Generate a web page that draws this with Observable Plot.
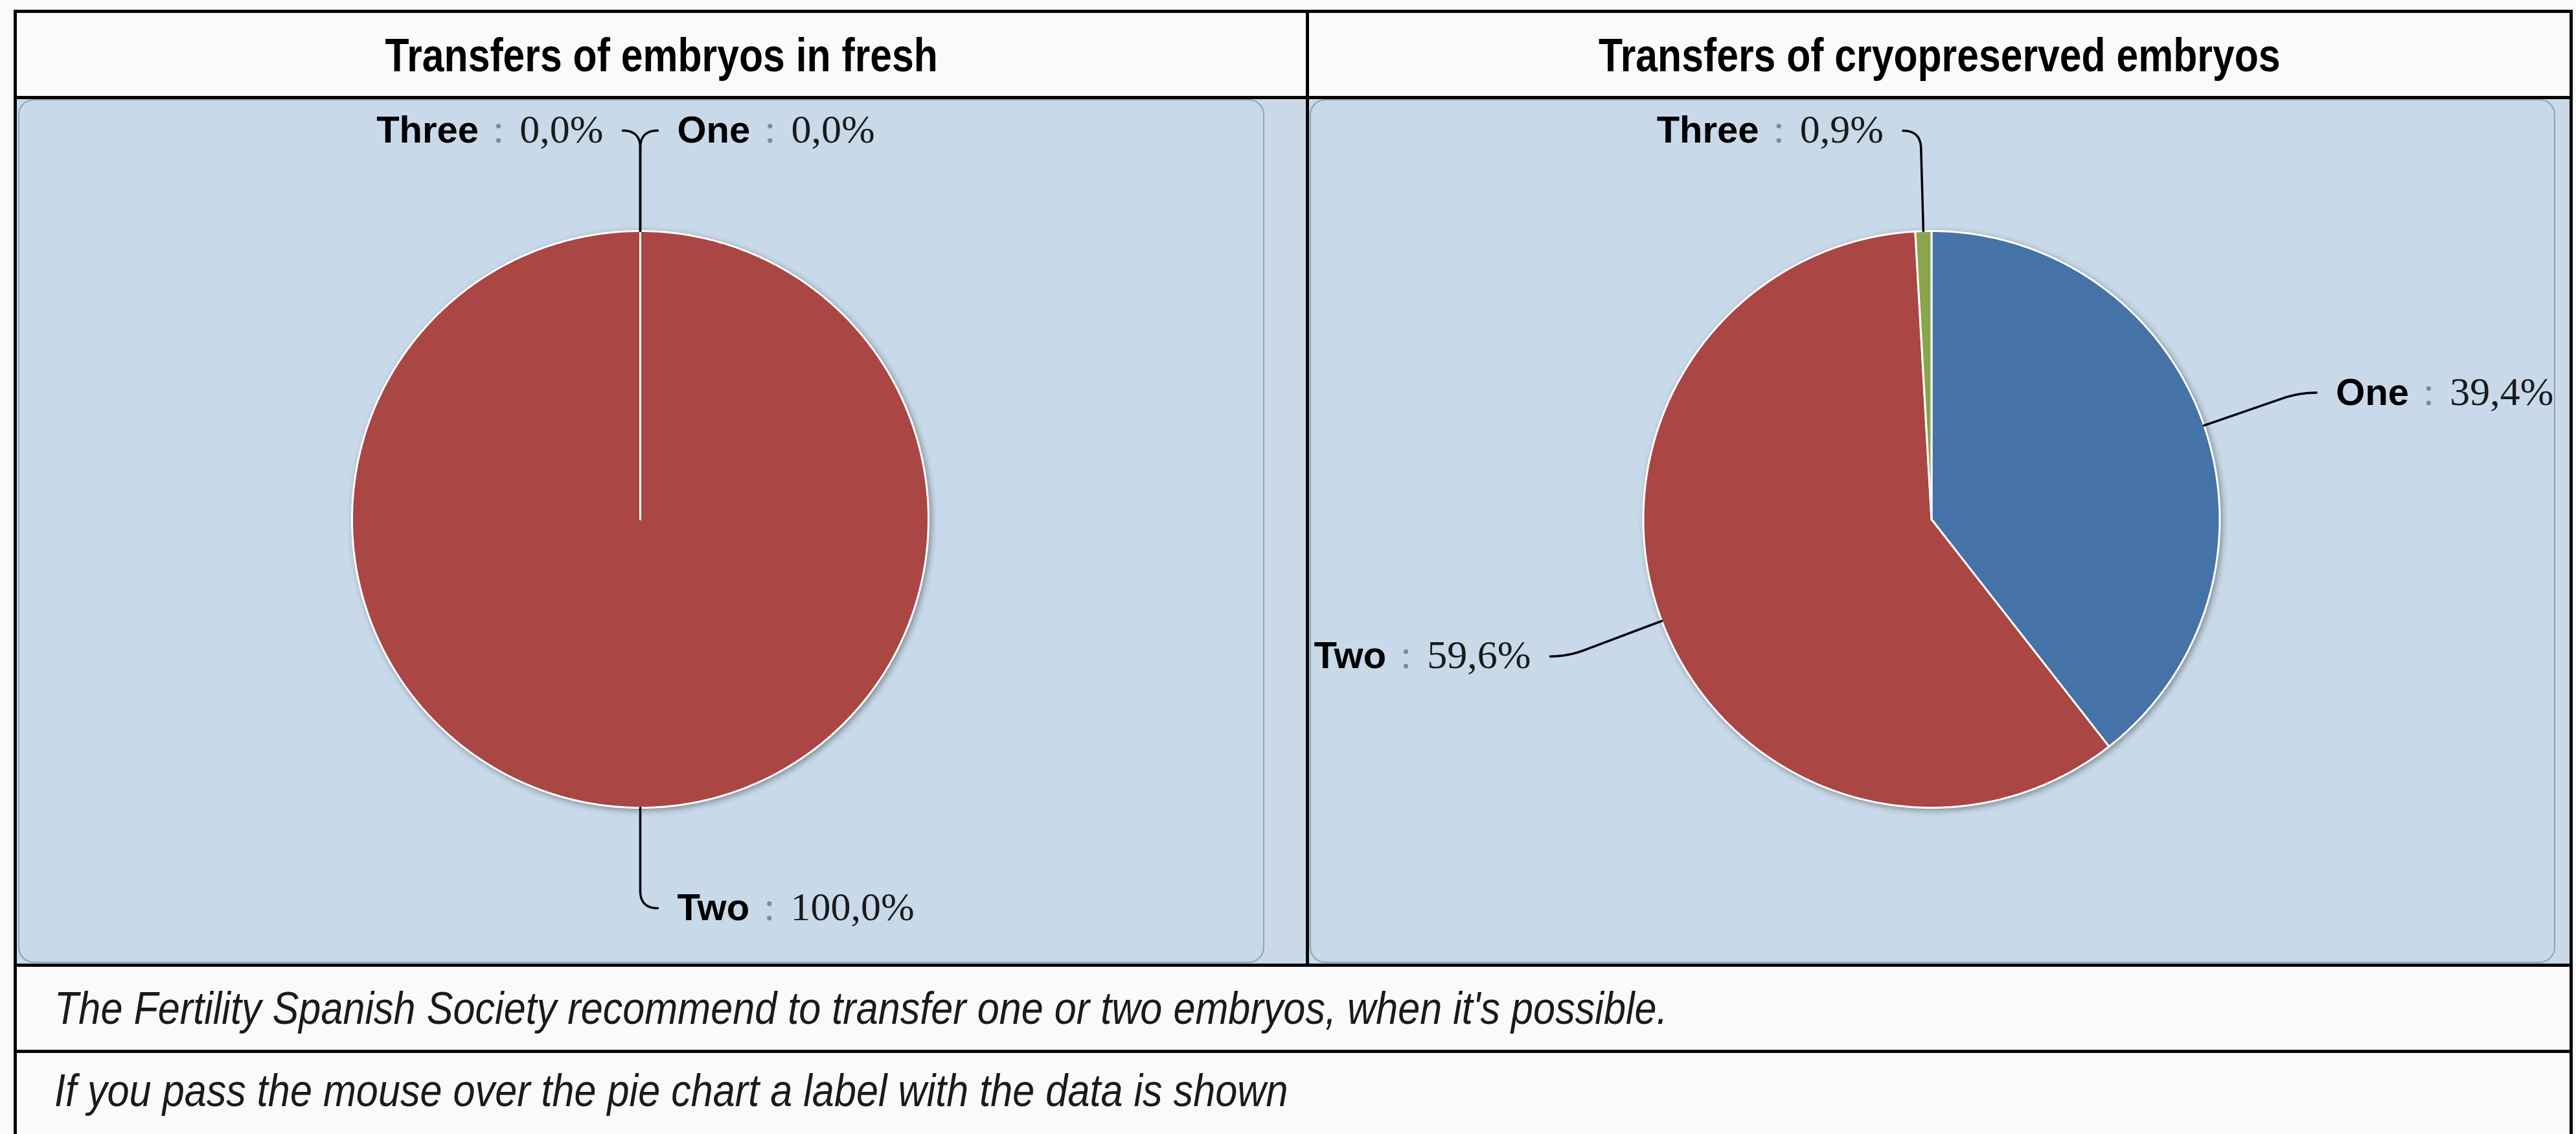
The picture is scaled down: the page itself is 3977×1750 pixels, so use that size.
<!DOCTYPE html>
<html><head><meta charset="utf-8">
<script src="https://cdn.jsdelivr.net/npm/d3@7"></script>
<script src="https://cdn.jsdelivr.net/npm/@observablehq/plot@0.6"></script>
<style>
html,body{margin:0;padding:0;background:#fafafa;width:3977px;height:1750px;overflow:hidden;position:relative;font-family:"Liberation Sans",Arial,sans-serif;}
.bar{position:absolute;background:#060606;}
.cell{position:absolute;background:#c9d9e8;}
.panel{position:absolute;box-sizing:border-box;border:2px solid #8ea3b9;border-radius:24px;background:#c8d9e9;}
.titlebox{position:absolute;text-align:center;white-space:nowrap;}
.titlebox span{display:inline-block;font-weight:bold;font-size:72px;line-height:72px;color:#000;transform:scaleX(0.843);transform-origin:50% 50%;}
.note{position:absolute;font-style:italic;font-size:70px;line-height:70px;white-space:nowrap;color:#1a1a1a;transform-origin:0 0;transform:scaleX(0.874);}
.plotbox{position:absolute;}
</style></head><body>
<script>
// ---- data ----
const categories = ["One", "Two", "Three"];
const freshShares = [0.0, 100.0, 0.0];
const cryoShares = [39.4, 59.6, 0.9];
const palette = ["#4572A7", "#AA4643", "#89A54E"];
const chartTitles = ["Transfers of embryos in fresh", "Transfers of cryopreserved embryos"];
const footnotes = [
  "The Fertility Spanish Society recommend to transfer one or two embryos, when it's possible.",
  "If you pass the mouse over the pie chart a label with the data is shown"
];

// ---- page frame ----
function div(cls, css, html) {
  const d = document.createElement("div");
  d.className = cls;
  Object.assign(d.style, css);
  if (html !== undefined) d.innerHTML = html;
  document.body.appendChild(d);
  return d;
}
const px = v => v + "px";
// cells
div("cell", {left: px(26), top: px(153), width: px(1990), height: px(1334)});
div("cell", {left: px(2021), top: px(153), width: px(1946), height: px(1334)});
// panels
const panels = [
  {left: 28, top: 153, width: 1924, height: 1333},
  {left: 2022, top: 153, width: 1923, height: 1333}
];
panels.forEach(p => div("panel", {left: px(p.left), top: px(p.top), width: px(p.width), height: px(p.height)}));
// borders
div("bar", {left: px(21), top: px(15), width: px(3951), height: px(5)});
div("bar", {left: px(21), top: px(148), width: px(3951), height: px(5)});
div("bar", {left: px(21), top: px(1487), width: px(3951), height: px(5)});
div("bar", {left: px(21), top: px(1620), width: px(3951), height: px(5)});
div("bar", {left: px(21), top: px(15), width: px(5), height: px(1760)});
div("bar", {left: px(3967), top: px(15), width: px(5), height: px(1760)});
div("bar", {left: px(2016), top: px(15), width: px(5), height: px(1477)});
// titles
const titleBoxes = [{left: 26, width: 1990}, {left: 2021, width: 1946}];
chartTitles.forEach((t, i) => {
  const b = div("titlebox", {left: px(titleBoxes[i].left), top: px(49), width: px(titleBoxes[i].width)});
  const s = document.createElement("span");
  s.textContent = t;
  b.appendChild(s);
});
// footnotes
const noteTops = [1521, 1648];
footnotes.forEach((t, i) => {
  const d = div("note", {left: px(84), top: px(noteTops[i])});
  d.textContent = t;
});

// ---- pies ----
const fmt = v => v.toFixed(1).replace(".", ",") + "%";
const SVGNS = "http://www.w3.org/2000/svg";

function pieChart(values, W, H, cx, cy) {
  const R = 445, rho = 600, hook = 27, pad = 57;
  const arcs = d3.pie().sort(null).value(d => d)(values);
  const slices = [], conns = [], labels = [];
  categories.forEach((name, i) => {
    const a = arcs[i];
    const span = a.endAngle - a.startAngle;
    const n = Math.max(2, Math.ceil(span / (Math.PI / 360)) + 1);
    slices.push({name, x: 0, y: 0});
    for (let k = 0; k < n; k++) {
      const t = a.startAngle + span * k / (n - 1);
      slices.push({name, x: R * Math.sin(t), y: R * Math.cos(t)});
    }
    const mid = (a.startAngle + a.endAngle) / 2;
    const ux = Math.sin(mid), uy = Math.cos(mid);
    const s = mid <= Math.PI + 1e-9 ? 1 : -1;
    const bx = rho * ux, by = rho * uy;
    const S = [bx + s * hook, by], P = [bx - hook * ux, by - hook * uy];
    for (let k = 0; k <= 20; k++) {
      const t = k / 20;
      conns.push({id: name,
        x: (1 - t) * (1 - t) * S[0] + 2 * t * (1 - t) * bx + t * t * P[0],
        y: (1 - t) * (1 - t) * S[1] + 2 * t * (1 - t) * by + t * t * P[1]});
    }
    conns.push({id: name, x: R * ux, y: R * uy});
    labels.push({side: s, x: bx + s * pad, y: by, text: name + " : " + fmt(values[i])});
  });

  const svg = Plot.plot({
    width: W, height: H, margin: 0,
    x: {domain: [-cx, W - cx], axis: null},
    y: {domain: [cy - H, cy], axis: null},
    color: {domain: categories, range: palette},
    style: {background: "transparent", overflow: "visible"},
    marks: [
      Plot.line(slices, {x: "x", y: "y", z: "name", fill: "name", stroke: "white", strokeWidth: 3, curve: "linear-closed"}),
      Plot.line(conns, {x: "x", y: "y", z: "id", stroke: "black", strokeWidth: 3.5, curve: "linear"}),
      Plot.text(labels.filter(d => d.side > 0), {x: "x", y: "y", text: "text", textAnchor: "start", fontSize: 58, fill: "black"}),
      Plot.text(labels.filter(d => d.side < 0), {x: "x", y: "y", text: "text", textAnchor: "end", fontSize: 58, fill: "black"})
    ]
  });
  const g = svg.querySelector('g[aria-label="line"]');
  if (g) g.style.filter = "drop-shadow(3px 3px 5px rgba(0,0,0,0.35))";
  svg.querySelectorAll('g[aria-label="text"] text').forEach(t => {
    const [name, val] = t.textContent.split(" : ");
    t.textContent = "";
    const parts = [
      {txt: name, ff: '"Liberation Sans", Arial, sans-serif', fw: "bold", fs: 58, fill: "#000", dx: 0},
      {txt: ":", ff: '"Liberation Serif", "Times New Roman", serif', fw: "normal", fs: 62, fill: "#888", dx: 22},
      {txt: val, ff: '"Liberation Serif", "Times New Roman", serif', fw: "normal", fs: 62, fill: "#1a1a1a", dx: 24}
    ];
    parts.forEach(p => {
      const ts = document.createElementNS(SVGNS, "tspan");
      ts.textContent = p.txt;
      ts.setAttribute("font-family", p.ff);
      ts.setAttribute("font-weight", p.fw);
      ts.setAttribute("font-size", p.fs);
      ts.setAttribute("fill", p.fill);
      if (p.dx) ts.setAttribute("dx", p.dx);
      t.appendChild(ts);
    });
  });
  return svg;
}

[freshShares, cryoShares].forEach((vals, i) => {
  const p = panels[i];
  const box = div("plotbox", {left: px(p.left), top: px(p.top), width: px(p.width), height: px(p.height)});
  box.appendChild(pieChart(vals, p.width, p.height, p.width / 2 - 2, 648));
});
</script>
</body></html>
